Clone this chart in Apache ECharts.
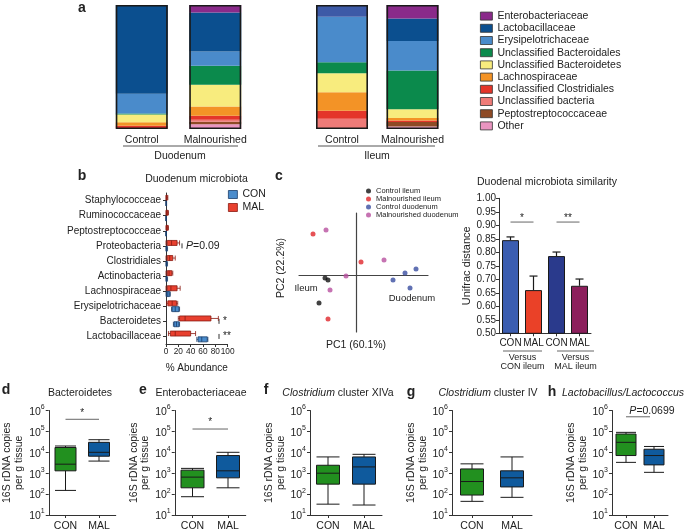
<!DOCTYPE html>
<html><head><meta charset="utf-8">
<script src="https://cdn.jsdelivr.net/npm/echarts@6/dist/echarts.min.js"></script>
<style>html,body{margin:0;padding:0;background:#fff}#c{width:685px;height:532px}</style>
</head><body><div id="c"></div>
<script>
const FONT = 'Liberation Sans, Arial, sans-serif';
const INK = '#222';

// ---------- Panel a: relative abundance (%) ----------
const aCategories = ['Control', 'Malnourished'];
const taxa = ['Enterobacteriaceae','Lactobacillaceae','Erysipelotrichaceae','Unclassified Bacteroidales','Unclassified Bacteroidetes','Lachnospiraceae','Unclassified Clostridiales','Unclassified bacteria','Peptostreptococcaceae','Other'];
const taxaColors = ['#8a2a8a','#0b4f8f','#4a8bcb','#0b8a4c','#f8ec7e','#f39326','#e4352a','#ef7b78','#8e4a25','#e995c0'];
const duodenumControl = [0, 71.6, 16.1, 0.8, 6.2, 2.7, 1.9, 0, 0, 0.8];
const duodenumMal     = [5.9, 31.6, 11.3, 15.5, 17.4, 7.5, 3.2, 1.6, 2.1, 3.8];
const ileumControl    = [0, 9.4, 36.7, 8.8, 15.3, 15.0, 6.4, 7.5, 0, 0.8];
const ileumMal        = [10.7, 18.2, 23.9, 31.1, 7.2, 1.9, 1.3, 0, 3.5, 2.1];

// ---------- Panel b: duodenum microbiota (% abundance, box: min,Q1,median,Q3,max) ----------
const bCategories = ['Staphylococceae','Ruminococcaceae','Peptostreptococceae','Proteobacteria','Clostridiales','Actinobacteria','Lachnospiraceae','Erysipelotrichaceae','Bacteroidetes','Lactobacillaceae'];
const bMAL = [[0,0.3,1,2,3],[0,0.5,1.5,3,4],[0,0.5,1.5,3,4],[0,2,9,18,22],[0,2,6,11,15],[0,2,5,9.5,11],[0,2,8,18,23],[1,3,10,17,19],[20,22,31,73,85],[4,7,15,40,48]];
const bCON = [[0,0,0.3,0.6,1],[0,0,0.2,0.4,0.6],[0,0,0.2,0.4,0.6],[0,0.3,0.8,1.5,2.5],[0,0.3,0.8,1.5,2.5],[0,0.3,0.8,1.5,2.5],[0,1,3,6,7],[9,10,15,21,22],[12,13,17,21,22],[50,52,58,67,68]];

// ---------- Panel c: PCoA ----------
const pcoaGroups = ['Control ileum','Malnourished ileum','Control duodenum','Malnourished duodenum'];
const pcoaColors = ['#111111','#e0262a','#3a4ea0','#b8509f'];
const controlIleum = [[-0.31,-0.03],[-0.28,-0.05],[-0.37,-0.28]];
const malIleum = [[-0.43,0.41],[0.05,0.13],[-0.28,-0.44]];
const controlDuodenum = [[0.37,-0.05],[0.49,0.02],[0.60,0.06],[0.54,-0.13]];
const malDuodenum = [[-0.30,0.45],[-0.10,-0.01],[-0.26,-0.15],[0.28,0.15]];

// ---------- Panel c: Unifrac similarity ----------
const simLabels = ['CON','MAL','CON','MAL'];
const simMean = [0.845, 0.660, 0.786, 0.676];
const simErr = [0.012, 0.052, 0.015, 0.025];
const simColors = ['#3b5db0','#ea4128','#2a3a8c','#8c1f5c'];

// ---------- Panels d-h: 16S rDNA copies per g tissue (min,Q1,median,Q3,max) ----------
const qCategories = ['CON','MAL'];
const dBacteroidetes = [[150,1300,2700,17000,20000],[3800,6500,10000,30000,40000]];
const eEnterobacteriaceae = [[75,200,650,1400,1700],[200,600,1300,7000,10000]];
const fClostridiumXIVa = [[33,300,1000,2400,6000],[30,300,2000,6000,8000]];
const gClostridiumIV = [[45,90,400,1600,2800],[70,220,600,1300,6000]];
const hLactobacillus = [[3300,7000,30000,75000,90000],[1100,2500,7000,14000,19000]];

const chart = echarts.init(document.getElementById('c'));
const T = (size, extra) => Object.assign({fontFamily: FONT, fontSize: size, color: INK}, extra || {});

const grids = [
  {left:105, top:5, width:147, height:124},
  {left:306.75, top:5, width:141, height:124},
  {left:166, top:193, width:61.6, height:151},
  {left:299, top:213, width:129, height:119},
  {left:499, top:198.3, width:92, height:135},
  {left:48.75, top:410.5, width:67, height:104.5},
  {left:174.75, top:410.5, width:71, height:104.5},
  {left:310, top:410.5, width:72, height:104.5},
  {left:452, top:410.5, width:80, height:104.5},
  {left:612, top:410.5, width:56, height:104.5}
];

const axLine = {show:true, lineStyle:{color:'#333', width:1}};
const xAxes = [], yAxes = [];
// a
for (let g = 0; g < 2; g++) {
  xAxes.push({gridIndex:g, type:'category', data:aCategories, axisLine:{show:false}, axisTick:{show:false}, axisLabel:Object.assign(T(10.5), {margin:6, interval:0})});
  yAxes.push({gridIndex:g, type:'value', min:0, max:100, show:false});
}
// b
xAxes.push({gridIndex:2, type:'value', min:0, max:100, interval:20, axisLine:axLine, axisTick:{show:true, length:3, lineStyle:{color:'#333'}}, splitLine:{show:false},
  axisLabel:Object.assign(T(8.3), {margin:4, showMaxLabel:true, showMinLabel:true}), name:'% Abundance', nameLocation:'middle', nameGap:19, nameTextStyle:T(10)});
yAxes.push({gridIndex:2, type:'category', data:bCategories, inverse:true, axisLine:axLine, axisTick:{show:true, length:3, alignWithLabel:true, lineStyle:{color:'#333'}}, axisLabel:Object.assign(T(10), {margin:5, interval:0})});
// c scatter
xAxes.push({gridIndex:3, type:'value', min:-0.57, max:0.72, axisLine:{onZero:true, lineStyle:{color:'#444', width:1.2}}, axisTick:{show:false}, axisLabel:{show:false}, splitLine:{show:false}});
yAxes.push({gridIndex:3, type:'value', min:-0.57, max:0.62, axisLine:{show:true, onZero:true, lineStyle:{color:'#444', width:1.2}}, axisTick:{show:false}, axisLabel:{show:false}, splitLine:{show:false}});
// c bars
xAxes.push({gridIndex:4, type:'category', data:simLabels.map((l,i)=>String(i)), axisLine:axLine, axisTick:{show:true, length:3, alignWithLabel:true, lineStyle:{color:'#333'}},
  axisLabel:Object.assign(T(10), {margin:5, interval:0, formatter:(v,i)=>simLabels[i]})});
yAxes.push({gridIndex:4, type:'value', min:0.5, max:1.0, interval:0.05, axisLine:axLine, axisTick:{show:true, length:3, lineStyle:{color:'#333'}}, splitLine:{show:false},
  axisLabel:Object.assign(T(10), {margin:3, formatter:v=>v.toFixed(2)}), name:'Unifrac distance', nameLocation:'middle', nameGap:26, nameTextStyle:T(11)});
// d-h
const qNameGaps = [24, 20, 21, 20, 10];
for (let k = 0; k < 5; k++) {
  const g = 5 + k;
  xAxes.push({gridIndex:g, type:'category', data:qCategories, axisLine:axLine, axisTick:{show:true, length:3, alignWithLabel:true, lineStyle:{color:'#333'}}, axisLabel:Object.assign(T(10.5), {margin:6, interval:0})});
  yAxes.push({gridIndex:g, type:'log', logBase:10, min:10, max:1000000, axisLine:axLine, axisTick:{show:true, length:3, lineStyle:{color:'#333'}}, splitLine:{show:false},
    axisLabel:{margin:4, formatter:v=>'{a|10}{b|' + Math.round(Math.log10(v)) + '}', rich:{a:T(10.5,{lineHeight:14, verticalAlign:'bottom'}), b:T(7,{lineHeight:8, verticalAlign:'top'})}},
    name:'16S rDNA copies\nper g tissue', nameLocation:'middle', nameGap:qNameGaps[k], nameTextStyle:T(10.5,{lineHeight:11.5})});
}

const series = [];
// a stacked bars (bottom of stack first)
const aData = [[duodenumControl, duodenumMal], [ileumControl, ileumMal]];
for (let g = 0; g < 2; g++) {
  for (let i = taxa.length - 1; i >= 0; i--) {
    const d = [aData[g][0][i], aData[g][1][i]].map((v, j) => {
      if (g === 1 && j === 0 && i === 1) return {value:v, itemStyle:{color:'#3d5aa7'}};
      return v;
    });
    series.push({name:taxa[i], type:'bar', stack:'a'+g, xAxisIndex:g, yAxisIndex:g, barWidth:52, data:d, itemStyle:{color:taxaColors[i]}, silent:true});
  }
  series.push({name:'frame'+g, type:'bar', xAxisIndex:g, yAxisIndex:g, barWidth:52, barGap:'-100%', data:[100,100], z:5, silent:true,
    itemStyle:{color:'rgba(0,0,0,0)', borderColor:'#1a1a1a', borderWidth:1.6}});
}
// b boxplots
const bColors = {MAL:['#e8402f','#8a1a12'], CON:['#4a8ccc','#1b3d6b']};
series.push({name:'MAL', type:'boxplot', layout:'horizontal', xAxisIndex:2, yAxisIndex:2, boxWidth:[5,5], data:bMAL, silent:true,
  itemStyle:{color:bColors.MAL[0], borderColor:bColors.MAL[1], borderWidth:0.8}});
series.push({name:'CON', type:'boxplot', layout:'horizontal', xAxisIndex:2, yAxisIndex:2, boxWidth:[5,5], data:bCON, silent:true,
  itemStyle:{color:bColors.CON[0], borderColor:bColors.CON[1], borderWidth:0.8}});
// c scatter
[controlIleum, malIleum, controlDuodenum, malDuodenum].forEach((pts, i) => {
  series.push({name:pcoaGroups[i], type:'scatter', xAxisIndex:3, yAxisIndex:3, data:pts, symbolSize:5, itemStyle:{color:pcoaColors[i]}, silent:true});
});
// c bars
series.push({type:'bar', xAxisIndex:4, yAxisIndex:4, barWidth:17, silent:true,
  data:simMean.map((v,i)=>({value:v, itemStyle:{color:simColors[i], borderColor:'#1a1a1a', borderWidth:1}}))});
series.push({type:'custom', xAxisIndex:4, yAxisIndex:4, silent:true, z:3,
  data:simMean.map((v,i)=>[i, v, simErr[i]]),
  renderItem:(params, api) => {
    const p = api.coord([api.value(0), api.value(1)]);
    const t = api.coord([api.value(0), api.value(1) + api.value(2)]);
    const s = {stroke:'#1a1a1a', lineWidth:1.2};
    return {type:'group', children:[
      {type:'line', shape:{x1:p[0], y1:p[1], x2:p[0], y2:t[1]}, style:s},
      {type:'line', shape:{x1:p[0]-4, y1:t[1], x2:p[0]+4, y2:t[1]}, style:s}
    ]};
  }});
// d-h boxplots
const qSets = [dBacteroidetes, eEnterobacteriaceae, fClostridiumXIVa, gClostridiumIV, hLactobacillus];
const qColors = ['#22901f', '#0f5a9d'];
const qBoxW = [21, 23, 23, 23, 20];
qSets.forEach((set, k) => {
  series.push({name:'q'+k, type:'boxplot', xAxisIndex:5+k, yAxisIndex:5+k, boxWidth:[qBoxW[k], qBoxW[k]], silent:true,
    data:set.map((v,i)=>({value:v, itemStyle:{color:qColors[i], borderColor:'#1a1a1a', borderWidth:1}}))});
});

chart.setOption({
  animation:false,
  textStyle:{fontFamily:FONT},
  grid:grids, xAxis:xAxes, yAxis:yAxes, series:series,
  legend:[
    {data:taxa, orient:'vertical', left:480, top:10, padding:0, itemWidth:12, itemHeight:8, itemGap:0, icon:'rect', selectedMode:false,
      itemStyle:{borderColor:'#333', borderWidth:0.8}, textStyle:T(10.5,{lineHeight:12.2})},
    {data:['CON','MAL'].map(n=>({name:n, itemStyle:{color:bColors[n][0], borderColor:bColors[n][1], borderWidth:0.8}})),
      orient:'vertical', left:228, top:189, padding:0, itemWidth:9, itemHeight:8, itemGap:2, icon:'rect', selectedMode:false,
      textStyle:T(10.5,{lineHeight:11})},
    {data:pcoaGroups, orient:'vertical', left:366, top:187, padding:0, itemWidth:5, itemHeight:5, itemGap:0, icon:'circle', selectedMode:false,
      textStyle:T(7.5,{lineHeight:7.7})}
  ]
});

function px(g, v) { return chart.convertToPixel({gridIndex:g}, v); }
const gr = [];
const text = (x, y, s, size, extra) => gr.push({type:'text', x:x, y:y, style:Object.assign({text:s, font: (extra && extra.weight ? extra.weight + ' ' : '') + size + 'px ' + FONT, fill:INK, textAlign:'center', textVerticalAlign:'middle'}, extra && extra.style || {}), rotation: extra && extra.rotation || 0});
const line = (x1, y1, x2, y2, w, c) => gr.push({type:'line', shape:{x1,y1,x2,y2}, style:{stroke:c||'#444', lineWidth:w||1}});

// panel letters
[['a',82,8],['b',82,176],['c',279,176],['d',6,390],['e',143,390],['f',266,390],['g',411,392],['h',552,392]].forEach(l => text(l[1], l[2], l[0], 14, {weight:'bold'}));

// panel a group labels
line(123,146,238,146,1,'#555'); line(318,146,435,146,1,'#555');
text(180,156,'Duodenum',10.5); text(377,156,'Ileum',10.5);

// panel b
text(196.5,179,'Duodenum microbiota',10.5);
const yP = px(2,[0,3])[1], yB = px(2,[0,8])[1], yL = px(2,[0,9])[1];
line(182,yP-2.5,182,yP+2.5,1,'#333');
gr.push({type:'text', x:186, y:yP, style:{text:'{i|P}=0.09', rich:{i:{font:'italic 10.5px '+FONT, fill:INK}}, font:'10.5px '+FONT, fill:INK, textVerticalAlign:'middle'}});
line(219,yB-2.5,219,yB+2.5,1,'#333'); text(225,yB,'*',10);
line(219,yL-2.5,219,yL+2.5,1,'#333'); text(227,yL,'**',10);

// panel c scatter
text(281,268,'PC2 (22.2%)',10.5,{rotation:Math.PI/2});
text(356,345,'PC1 (60.1%)',10.5);
text(306,288,'Ileum',9.5); text(412,298,'Duodenum',9.5);

// panel c bars
text(547,182,'Duodenal microbiota similarity',10.5);
const s1 = px(4,[0,0.912]), s2 = px(4,[1,0.912]), s3 = px(4,[2,0.912]), s4 = px(4,[3,0.912]);
line(s1[0],s1[1],s2[0],s2[1],1,'#666'); text((s1[0]+s2[0])/2, s1[1]-4,'*',10);
line(s3[0],s3[1],s4[0],s4[1],1,'#666'); text((s3[0]+s4[0])/2, s3[1]-4,'**',10);
line(503,351,542,351,1,'#666'); line(557,351,594,351,1,'#666');
text(522.5,358,'Versus',9); text(522.5,367,'CON ileum',9);
text(575.5,358,'Versus',9); text(575.5,367,'MAL ileum',9);

// bottom titles
const titles = [[80,'', 'Bacteroidetes'],[201,'','Enterobacteriaceae'],[338,'Clostridium',' cluster XIVa'],[488,'Clostridium',' cluster IV'],[623,'Lactobacillus/Lactococcus','']];
titles.forEach(t => gr.push({type:'text', x:t[0], y:393, style:{text:(t[1]?'{i|'+t[1]+'}':'') + (t[2]?'{n|'+t[2]+'}':''), rich:{i:{font:'italic 10.5px '+FONT, fill:INK}, n:{font:'10.5px '+FONT, fill:INK}}, textAlign:'center', textVerticalAlign:'middle'}}));

// significance bars d, e, h
const dA = px(5,[0,380000]), dB = px(5,[1,380000]);
line(dA[0],dA[1],dB[0],dB[1],1,'#666'); text((dA[0]+dB[0])/2, dA[1]-6,'*',10);
const eA = px(6,[0,130000]), eB = px(6,[1,130000]);
line(eA[0],eA[1],eB[0],eB[1],1,'#666'); text((eA[0]+eB[0])/2, eA[1]-7,'*',10);
const hA = px(9,[0,500000]), hB = px(9,[1,500000]);
line(hA[0],hA[1],hB[0]-4,hB[1],1,'#666');
gr.push({type:'text', x:(hA[0]+hB[0])/2+12, y:hA[1]-6, style:{text:'{i|P}=0.0699', rich:{i:{font:'italic 10.5px '+FONT, fill:INK}}, font:'10.5px '+FONT, fill:INK, textAlign:'center', textVerticalAlign:'middle'}});

chart.setOption({graphic:gr});
</script></body></html>
